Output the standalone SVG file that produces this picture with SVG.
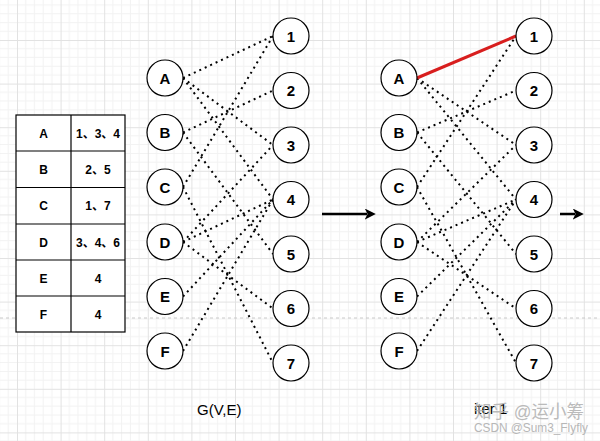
<svg xmlns="http://www.w3.org/2000/svg" width="600" height="441" viewBox="0 0 600 441">
<defs>
<pattern id="grid" patternUnits="userSpaceOnUse" x="17" y="40" width="43.6" height="43.6">
<path d="M8.72 0V43.6M17.44 0V43.6M26.16 0V43.6M34.88 0V43.6M0 8.72H43.6M0 17.44H43.6M0 26.16H43.6M0 34.88H43.6" stroke="#f2f2f2" stroke-width="1" fill="none"/>
<path d="M0.5 0V43.6M0 0.5H43.6" stroke="#e2e2e2" stroke-width="1" fill="none"/>
</pattern>
<marker id="ah" viewBox="0 0 10 10" refX="2" refY="5" markerWidth="4.4" markerHeight="4.4" orient="auto" markerUnits="strokeWidth">
<path d="M0 0L10 5L0 10L2.5 5Z" fill="#000"/>
</marker>
<style>
.n circle{fill:#fff;stroke:#000;stroke-width:1.2}
.n text,.t text{font-family:"Liberation Sans",Arial,"Noto Sans CJK SC",sans-serif;font-weight:bold;text-anchor:middle;fill:#000}
.n text{font-size:15px}
.t text{font-size:12px}
.t rect,.t line{fill:#fff;stroke:#000;stroke-width:1.2}
.e line{stroke:#000;stroke-width:2;stroke-dasharray:2 4;fill:none}
.lbl{font-family:"Liberation Sans",Arial,sans-serif;font-size:15px;fill:#000}
.wm{font-family:"Liberation Sans","Noto Sans CJK SC",sans-serif;fill:#b0b0b0}
</style>
</defs>
<rect width="600" height="441" fill="#fff"/>
<rect width="600" height="441" fill="url(#grid)"/>
<line x1="0" y1="318" x2="600" y2="318" stroke="#c8c8c8" stroke-width="1" stroke-dasharray="3 3"/>

<g id="table" class="t">
<rect x="16" y="115" width="109" height="217"/>
<line x1="71" y1="115" x2="71" y2="332"/>
<line x1="16" y1="151" x2="125" y2="151"/>
<line x1="16" y1="187.5" x2="125" y2="187.5"/>
<line x1="16" y1="224" x2="125" y2="224"/>
<line x1="16" y1="260" x2="125" y2="260"/>
<line x1="16" y1="296" x2="125" y2="296"/>
<text x="43.5" y="137.5">A</text><text x="98" y="137.5">1、3、4</text>
<text x="43.5" y="174">B</text><text x="98" y="174">2、5</text>
<text x="43.5" y="210">C</text><text x="98" y="210">1、7</text>
<text x="43.5" y="246.5">D</text><text x="98" y="246.5">3、4、6</text>
<text x="43.5" y="282.5">E</text><text x="98" y="282.5">4</text>
<text x="43.5" y="319">F</text><text x="98" y="319">4</text>
</g>

<g id="connectors">
<g class="e">
<line x1="183" y1="78" x2="273" y2="36"/>
<line x1="183" y1="78" x2="273" y2="145"/>
<line x1="183" y1="78" x2="273" y2="199.5"/>
<line x1="183" y1="132.5" x2="273" y2="90.5"/>
<line x1="183" y1="132.5" x2="273" y2="254"/>
<line x1="183" y1="187" x2="273" y2="36"/>
<line x1="183" y1="187" x2="273" y2="363"/>
<line x1="183" y1="242" x2="273" y2="145"/>
<line x1="183" y1="242" x2="273" y2="199.5"/>
<line x1="183" y1="242" x2="273" y2="308.5"/>
<line x1="183" y1="296.5" x2="273" y2="199.5"/>
<line x1="183" y1="351" x2="273" y2="199.5"/>

<line x1="417" y1="78" x2="516" y2="145"/>
<line x1="417" y1="78" x2="516" y2="199.5"/>
<line x1="417" y1="132.5" x2="516" y2="90.5"/>
<line x1="417" y1="132.5" x2="516" y2="254"/>
<line x1="417" y1="187" x2="516" y2="36"/>
<line x1="417" y1="187" x2="516" y2="363"/>
<line x1="417" y1="242" x2="516" y2="145"/>
<line x1="417" y1="242" x2="516" y2="199.5"/>
<line x1="417" y1="242" x2="516" y2="308.5"/>
<line x1="417" y1="296.5" x2="516" y2="199.5"/>
<line x1="417" y1="351" x2="516" y2="199.5"/>
</g>
<line x1="417" y1="78" x2="516" y2="36" stroke="#d81e1e" stroke-width="3"/>
<line x1="322" y1="214" x2="367" y2="214" stroke="#000" stroke-width="2.5" marker-end="url(#ah)"/>
<line x1="560" y1="214" x2="575" y2="214" stroke="#000" stroke-width="2.5" marker-end="url(#ah)"/>
</g>

<g id="g1-A" class="n"><circle cx="165" cy="78" r="18"/><text x="165" y="83.5">A</text></g>
<g id="g1-B" class="n"><circle cx="165" cy="132.5" r="18"/><text x="165" y="138">B</text></g>
<g id="g1-C" class="n"><circle cx="165" cy="187" r="18"/><text x="165" y="192.5">C</text></g>
<g id="g1-D" class="n"><circle cx="165" cy="242" r="18"/><text x="165" y="247.5">D</text></g>
<g id="g1-E" class="n"><circle cx="165" cy="296.5" r="18"/><text x="165" y="302">E</text></g>
<g id="g1-F" class="n"><circle cx="165" cy="351" r="18"/><text x="165" y="356.5">F</text></g>
<g id="g1-1" class="n"><circle cx="291" cy="36" r="18"/><text x="291" y="41.5">1</text></g>
<g id="g1-2" class="n"><circle cx="291" cy="90.5" r="18"/><text x="291" y="96">2</text></g>
<g id="g1-3" class="n"><circle cx="291" cy="145" r="18"/><text x="291" y="150.5">3</text></g>
<g id="g1-4" class="n"><circle cx="291" cy="199.5" r="18"/><text x="291" y="205">4</text></g>
<g id="g1-5" class="n"><circle cx="291" cy="254" r="18"/><text x="291" y="259.5">5</text></g>
<g id="g1-6" class="n"><circle cx="291" cy="308.5" r="18"/><text x="291" y="314">6</text></g>
<g id="g1-7" class="n"><circle cx="291" cy="363" r="18"/><text x="291" y="368.5">7</text></g>

<g id="g2-A" class="n"><circle cx="399" cy="78" r="18"/><text x="399" y="83.5">A</text></g>
<g id="g2-B" class="n"><circle cx="399" cy="132.5" r="18"/><text x="399" y="138">B</text></g>
<g id="g2-C" class="n"><circle cx="399" cy="187" r="18"/><text x="399" y="192.5">C</text></g>
<g id="g2-D" class="n"><circle cx="399" cy="242" r="18"/><text x="399" y="247.5">D</text></g>
<g id="g2-E" class="n"><circle cx="399" cy="296.5" r="18"/><text x="399" y="302">E</text></g>
<g id="g2-F" class="n"><circle cx="399" cy="351" r="18"/><text x="399" y="356.5">F</text></g>
<g id="g2-1" class="n"><circle cx="534" cy="36" r="18"/><text x="534" y="41.5">1</text></g>
<g id="g2-2" class="n"><circle cx="534" cy="90.5" r="18"/><text x="534" y="96">2</text></g>
<g id="g2-3" class="n"><circle cx="534" cy="145" r="18"/><text x="534" y="150.5">3</text></g>
<g id="g2-4" class="n"><circle cx="534" cy="199.5" r="18"/><text x="534" y="205">4</text></g>
<g id="g2-5" class="n"><circle cx="534" cy="254" r="18"/><text x="534" y="259.5">5</text></g>
<g id="g2-6" class="n"><circle cx="534" cy="308.5" r="18"/><text x="534" y="314">6</text></g>
<g id="g2-7" class="n"><circle cx="534" cy="363" r="18"/><text x="534" y="368.5">7</text></g>

<text class="lbl" x="197" y="415">G(V,E)</text>
<text class="lbl" x="474" y="414">iter 1</text>
<text class="wm" x="474" y="418" font-size="18" textLength="110" lengthAdjust="spacingAndGlyphs" opacity="0.85">知乎 @运小筹</text>
<text class="wm" x="474" y="432" font-size="13" textLength="114" lengthAdjust="spacingAndGlyphs" opacity="0.9">CSDN @Sum3_Flyfly</text>
</svg>
